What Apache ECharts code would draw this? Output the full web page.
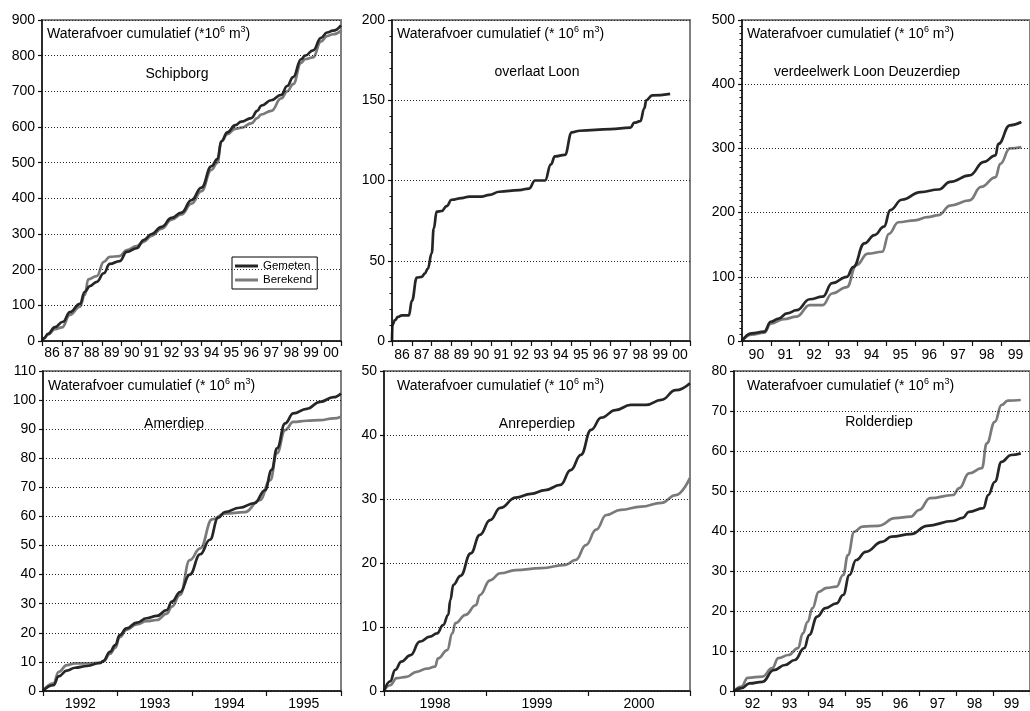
<!DOCTYPE html>
<html>
<head>
<meta charset="utf-8">
<script src="https://cdn.jsdelivr.net/npm/echarts@6/dist/echarts.min.js"></script>
<style>
html,body{margin:0;padding:0;background:#fff;}
#c{width:1030px;height:711px;}
</style>
</head>
<body>
<div id="c"></div>
<script>
// ---------- DATA ----------
const yearsSchipborg = ['86','87','88','89','90','91','92','93','94','95','96','97','98','99','00'];
const yearsLoon = ['86','87','88','89','90','91','92','93','94','95','96','97','98','99','00'];
const yearsDeuzerdiep = ['90','91','92','93','94','95','96','97','98','99'];
const yearsAmerdiep = ['1992','1993','1994','1995'];
const yearsAnreperdiep = ['1998','1999','2000'];
const yearsRolderdiep = ['92','93','94','95','96','97','98','99'];

const schipborgGemeten = [[1986.0,0],[1986.1,8],[1986.3,20],[1986.65,39],[1987.05,54],[1987.4,81],[1987.9,104],[1988.15,138],[1988.4,154],[1988.75,166],[1989.1,190],[1989.4,216],[1989.9,224],[1990.25,250],[1990.75,260],[1991.1,283],[1991.5,300],[1992.0,320],[1992.5,345],[1993.0,360],[1993.5,395],[1994.0,430],[1994.5,490],[1994.8,510],[1995.0,560],[1995.3,585],[1995.7,605],[1996.0,615],[1996.5,625],[1996.8,645],[1997.0,660],[1997.5,675],[1998.0,690],[1998.3,715],[1998.6,740],[1999.0,790],[1999.2,800],[1999.6,815],[2000.0,850],[2000.3,865],[2000.6,870],[2001.0,885]];
const schipborgBerekend = [[1986.0,0],[1986.1,6],[1986.3,18],[1986.65,33],[1987.0,38],[1987.4,73],[1987.9,96],[1988.15,129],[1988.32,173],[1988.75,182],[1989.1,222],[1989.4,236],[1989.9,238],[1990.25,255],[1990.75,266],[1991.1,278],[1991.5,295],[1992.0,315],[1992.5,340],[1993.0,355],[1993.5,385],[1994.0,420],[1994.5,480],[1994.8,500],[1995.0,560],[1995.3,580],[1995.7,595],[1996.0,598],[1996.5,610],[1996.8,625],[1997.0,635],[1997.5,645],[1998.0,680],[1998.3,700],[1998.6,720],[1999.0,780],[1999.2,790],[1999.6,795],[2000.0,840],[2000.3,855],[2000.6,860],[2001.0,870]];

const loonGemeten = [[1986.0,0],[1986.02,10],[1986.15,13],[1986.3,15],[1986.5,16],[1986.85,16],[1987.0,25],[1987.25,39.5],[1987.5,40],[1987.65,42],[1987.8,45],[1988.0,54.6],[1988.1,70],[1988.25,80.6],[1988.5,81],[1988.75,84],[1989.0,88],[1989.5,89],[1989.9,90],[1990.5,90],[1990.9,91],[1991.4,93],[1992.4,94],[1992.9,95],[1993.2,100],[1993.7,100],[1994.0,110],[1994.2,115],[1994.7,116],[1995.05,130],[1995.45,131],[1997.0,132],[1998.0,133],[1998.2,136],[1998.5,137],[1998.7,145],[1998.8,150],[1999.1,153],[2000.0,154]];

const deuzerdiepGemeten = [[1990.0,0],[1990.33,12],[1990.77,14.5],[1991.0,30],[1991.28,35],[1991.56,43],[1991.9,48],[1992.35,65],[1992.8,69],[1993.13,90],[1993.64,100],[1993.86,115],[1994.25,152],[1994.6,165],[1994.93,178],[1995.15,204],[1995.55,220],[1996.2,232],[1996.83,236],[1997.23,248],[1997.9,258],[1998.4,279],[1998.8,289],[1998.9,307],[1999.3,336],[1999.7,341]];
const deuzerdiepBerekend = [[1990.0,0],[1990.33,10],[1990.77,13],[1991.0,27],[1991.45,34],[1991.9,38],[1992.35,56],[1992.8,56],[1993.13,74],[1993.64,84],[1993.97,118],[1994.37,136],[1994.87,139],[1995.1,167],[1995.43,185],[1996.0,188],[1996.44,193],[1996.83,196],[1997.23,211],[1997.9,219],[1998.3,240],[1998.8,255],[1998.97,276],[1999.3,300],[1999.7,302]];

const amerdiepGemeten = [[1992.0,0],[1992.14,2],[1992.21,5],[1992.32,7],[1992.43,8],[1992.59,8.6],[1992.77,9.7],[1992.81,10.4],[1992.9,13.5],[1992.97,15.8],[1993.03,19.2],[1993.12,21.5],[1993.26,23.5],[1993.39,25],[1993.53,25.8],[1993.66,27.8],[1993.73,30.7],[1993.84,34],[1993.97,40],[1994.11,47],[1994.24,52],[1994.35,59.5],[1994.44,61.5],[1994.64,63],[1994.84,64.6],[1994.98,69],[1995.07,76],[1995.14,83.4],[1995.25,92],[1995.36,95.4],[1995.54,97],[1995.72,99.4],[1995.9,101],[1996.0,102.3]];
const amerdiepBerekend = [[1992.0,0],[1992.14,2.6],[1992.21,6.6],[1992.32,8.9],[1992.43,9.5],[1992.59,9.5],[1992.77,9.7],[1992.81,10.2],[1992.9,12.8],[1992.97,14.8],[1993.03,18.5],[1993.12,21],[1993.26,22.9],[1993.39,24],[1993.53,24.4],[1993.66,26.6],[1993.73,29],[1993.84,33],[1993.97,45],[1994.11,49],[1994.27,59],[1994.44,61],[1994.71,61.5],[1994.91,65.6],[1995.05,72.5],[1995.14,81.7],[1995.25,89.7],[1995.36,92.5],[1995.54,92.9],[1995.72,93.1],[1995.9,93.7],[1996.0,94.3]];

const anreperdiepGemeten = [[1998.0,0],[1998.06,1.5],[1998.11,3.3],[1998.17,4.6],[1998.26,5.6],[1998.35,7.7],[1998.45,8.5],[1998.52,9],[1998.58,10.3],[1998.63,11.9],[1998.65,14.2],[1998.68,16.6],[1998.75,18],[1998.85,21.5],[1998.94,24.4],[1999.04,26.7],[1999.14,28.6],[1999.29,30.2],[1999.44,30.8],[1999.58,31.4],[1999.73,32.2],[1999.83,34.5],[1999.93,36.9],[2000.03,40.8],[2000.13,42.7],[2000.27,43.9],[2000.42,44.7],[2000.57,44.7],[2000.72,45.5],[2000.86,47],[2001.0,48.1]];
const anreperdiepBerekend = [[1998.0,0],[1998.06,0.9],[1998.125,2],[1998.22,2.2],[1998.32,3],[1998.42,3.5],[1998.5,3.8],[1998.53,5.1],[1998.62,6.4],[1998.67,9],[1998.7,10.6],[1998.8,11.9],[1998.9,13.4],[1998.94,15],[1999.04,17.3],[1999.14,18.4],[1999.29,18.9],[1999.54,19.2],[1999.78,19.7],[1999.88,20.5],[1999.98,22.8],[2000.08,25.2],[2000.18,27.5],[2000.32,28.3],[2000.52,28.8],[2000.72,29.4],[2000.86,30.6],[2001.0,33.3]];

const rolderdiepGemeten = [[1992.0,0],[1992.2,0.7],[1992.42,1.9],[1992.77,2.3],[1993.07,5.2],[1993.38,6.5],[1993.64,7.75],[1993.9,10.7],[1994.03,14],[1994.25,18.6],[1994.47,20.7],[1994.77,21.9],[1994.95,24],[1995.12,29],[1995.3,32.75],[1995.56,34.8],[1996.0,37.3],[1996.26,38.6],[1996.78,39.2],[1997.22,41.3],[1997.92,42.5],[1998.18,43.3],[1998.35,44.8],[1998.74,45.7],[1998.87,49],[1999.05,52.3],[1999.23,57.3],[1999.49,59],[1999.75,59.4]];
const rolderdiepBerekend = [[1992.0,0],[1992.2,1.1],[1992.37,3.3],[1992.77,3.6],[1993.03,5.7],[1993.2,8.2],[1993.47,9],[1993.73,10.7],[1993.86,14.4],[1993.99,17.3],[1994.12,20.7],[1994.29,24.8],[1994.51,25.8],[1994.77,26.1],[1994.95,29],[1995.08,34],[1995.25,39.8],[1995.47,41.1],[1995.91,41.3],[1996.35,43.2],[1996.78,43.6],[1997.0,45.25],[1997.3,48.2],[1997.92,49],[1998.09,50.7],[1998.35,54.4],[1998.7,55.7],[1998.83,61.9],[1999.05,67.3],[1999.23,71.5],[1999.4,72.6],[1999.75,72.75]];

// ---------- LAYOUT ----------
const FONT = 'Arial, "Liberation Sans", sans-serif';
const panels = [
  {name:'Schipborg', cats:yearsSchipborg, xmin:1986, xmax:2001, ymax:900, yint:100, minor:0,
   g:schipborgGemeten, b:schipborgBerekend, grid:{left:42, top:20, width:299, height:321}, lblMargin:5,
   title:'(*10', tx:47, ty:25, sx:177, sy:74},
  {name:'overlaat Loon', cats:yearsLoon, xmin:1986, xmax:2001, ymax:200, yint:50, minor:5,
   g:loonGemeten, b:null, grid:{left:392, top:20, width:298, height:321}, lblMargin:7,
   title:'(* 10', tx:397, ty:25, sx:537, sy:72},
  {name:'verdeelwerk Loon Deuzerdiep', cats:yearsDeuzerdiep, xmin:1990, xmax:2000, ymax:500, yint:100, minor:10,
   g:deuzerdiepGemeten, b:deuzerdiepBerekend, grid:{left:742, top:20, width:297, height:321}, lblMargin:7,
   title:'(* 10', tx:747, ty:25, sx:867, sy:72},
  {name:'Amerdiep', cats:yearsAmerdiep, xmin:1992, xmax:1996, ymax:110, yint:10, minor:0,
   g:amerdiepGemeten, b:amerdiepBerekend, grid:{left:43, top:371, width:298, height:320}, lblMargin:6,
   title:'(* 10', tx:48, ty:377, sx:174, sy:424},
  {name:'Anreperdiep', cats:yearsAnreperdiep, xmin:1998, xmax:2001, ymax:50, yint:10, minor:0,
   g:anreperdiepGemeten, b:anreperdiepBerekend, grid:{left:384, top:371, width:306, height:320}, lblMargin:6,
   title:'(* 10', tx:397, ty:377, sx:537, sy:424},
  {name:'Rolderdiep', cats:yearsRolderdiep, xmin:1992, xmax:2000, ymax:80, yint:10, minor:0,
   g:rolderdiepGemeten, b:rolderdiepBerekend, grid:{left:734, top:371, width:306, height:320}, lblMargin:6,
   title:'(* 10', tx:747, ty:377, sx:879, sy:422}
];

const grids=[], xAxes=[], yAxes=[], series=[], titles=[];
const axisLineStyle = {color:'#111', width:1.5};
panels.forEach((p,i)=>{
  grids.push(Object.assign({show:true, borderColor:'#808080', borderWidth:2, backgroundColor:'transparent', containLabel:false}, p.grid));
  xAxes.push({type:'category', gridIndex:i, data:p.cats, boundaryGap:true,
    axisLine:{lineStyle:axisLineStyle}, axisTick:{show:true, length:5, lineStyle:{color:'#111', width:1.2}},
    axisLabel:{color:'#000', fontSize:14, fontFamily:FONT, margin:p.lblMargin, interval:0}, splitLine:{show:false}, z:5});
  xAxes.push({type:'value', gridIndex:i, min:p.xmin, max:p.xmax, show:false});
  yAxes.push({type:'value', gridIndex:i, min:0, max:p.ymax, interval:p.yint,
    axisLine:{show:true, lineStyle:axisLineStyle},
    axisTick:{show:true, length:4, lineStyle:{color:'#111', width:1.2}},
    minorTick:{show:p.minor>0, splitNumber:p.minor||5, length:2.5, lineStyle:{color:'#111', width:1}},
    axisLabel:{color:'#000', fontSize:14, fontFamily:FONT, margin:7},
    splitLine:{show:true, lineStyle:{color:'#222', width:1, type:[1,2]}}, z:5});
  series.push({name:'Gemeten', type:'line', xAxisIndex:2*i+1, yAxisIndex:i, data:p.g, showSymbol:false,
    smooth:0.45, smoothMonotone:'x', lineStyle:{color:'#262626', width:2.7}, itemStyle:{color:'#262626'}, z:4});
  if(p.b){
    series.push({name:'Berekend', type:'line', xAxisIndex:2*i+1, yAxisIndex:i, data:p.b, showSymbol:false,
      smooth:0.45, smoothMonotone:'x', lineStyle:{color:'#7a7a7a', width:2.7}, itemStyle:{color:'#7a7a7a'}, z:3});
  }
  titles.push({text:'{a|Waterafvoer cumulatief '+p.title+'}{s|6}{a| m}{s|3}{a|)}', left:p.tx, top:p.ty, padding:0,
    textStyle:{fontWeight:'normal', rich:{a:{fontSize:14, fontWeight:'normal', fontFamily:FONT, color:'#000', lineHeight:16, verticalAlign:'bottom'},
                     s:{fontSize:9, fontWeight:'normal', fontFamily:FONT, color:'#000', lineHeight:16, verticalAlign:'top'}}}});
  titles.push({text:p.name, left:p.sx, top:p.sy-8, textAlign:'center', padding:0,
    textStyle:{fontSize:14, fontWeight:'normal', fontFamily:FONT, color:'#000', lineHeight:16}});
});

const chart = echarts.init(document.getElementById('c'), null, {renderer:'canvas'});
chart.setOption({
  animation:false,
  backgroundColor:'#fff',
  title:titles,
  grid:grids,
  xAxis:xAxes,
  yAxis:yAxes,
  legend:{data:['Gemeten','Berekend'], left:232, top:257, orient:'vertical', icon:'rect', itemWidth:23, itemHeight:3,
    itemGap:2, padding:[3,5,3,3], borderColor:'#000', borderWidth:1, backgroundColor:'#fff',
    textStyle:{fontSize:11.5, fontFamily:FONT, color:'#000'}, selectedMode:false},
  series:series
});
</script>
</body>
</html>
